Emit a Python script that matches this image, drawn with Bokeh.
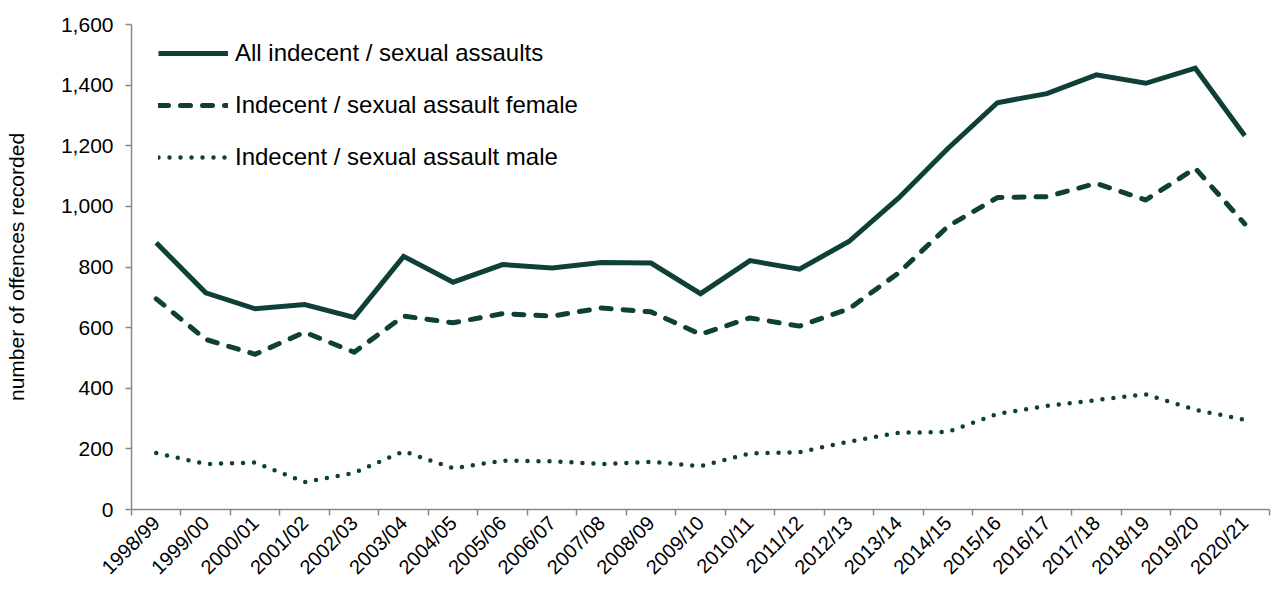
from bokeh.plotting import figure
from bokeh.models import FixedTicker, NumeralTickFormatter, Range1d, Legend, LegendItem
from bokeh.embed import file_html
from bokeh.resources import INLINE
import math

years = ["1998/99", "1999/00", "2000/01", "2001/02", "2002/03", "2003/04", "2004/05",
         "2005/06", "2006/07", "2007/08", "2008/09", "2009/10", "2010/11", "2011/12",
         "2012/13", "2013/14", "2014/15", "2015/16", "2016/17", "2017/18", "2018/19",
         "2019/20", "2020/21"]
all_assaults = [880, 715, 662, 676, 634, 835, 750, 808, 797, 815, 813, 712, 821, 793,
                884, 1027, 1191, 1342, 1372, 1434, 1406, 1456, 1233]
female = [695, 561, 512, 585, 519, 638, 616, 646, 638, 665, 652, 578, 632, 605,
          662, 780, 934, 1029, 1032, 1076, 1021, 1126, 942]
male = [186, 150, 155, 90, 121, 192, 136, 161, 159, 150, 157, 143, 185, 189,
        224, 253, 256, 315, 342, 361, 380, 329, 296]
y_ticks = [0, 200, 400, 600, 800, 1000, 1200, 1400, 1600]

xs = [i + 0.5 for i in range(len(years))]
color = "#0e4038"
font = "Liberation Sans"

p = figure(width=1271, height=589, output_backend="svg", toolbar_location=None,
           x_range=Range1d(0, len(years)), y_range=Range1d(0, 1600),
           min_border_left=131, min_border_right=2, min_border_top=24, min_border_bottom=78)
p.outline_line_color = None
p.grid.visible = False
p.background_fill_color = "white"

r1 = p.line(xs, all_assaults, line_color=color, line_width=5, line_join="miter")
r2 = p.line(xs, female, line_color=color, line_width=5, line_dash="10 12", line_cap="round", line_join="round")
r3 = p.line(xs, male, line_color=color, line_width=4.5, line_dash="0 11", line_cap="round", line_join="round")

# x axis: labels at category centres, ticks at boundaries
xa = p.xaxis[0]
xa.ticker = FixedTicker(ticks=xs, minor_ticks=list(range(len(years) + 1)))
xa.major_label_overrides = {x: y for x, y in zip(xs, years)}
xa.major_label_orientation = math.pi / 4
xa.major_tick_out = 0
xa.major_tick_in = 0
xa.minor_tick_out = 6
xa.minor_tick_in = 0
xa.minor_tick_line_color = "#888888"
xa.minor_tick_line_width = 1.5
xa.axis_line_color = "#888888"
xa.axis_line_width = 1.5
xa.major_label_text_font = font
xa.major_label_text_font_size = "20px"
xa.major_label_text_color = "#000000"
xa.major_label_standoff = 4

ya = p.yaxis[0]
ya.ticker = FixedTicker(ticks=y_ticks, minor_ticks=[])
ya.formatter = NumeralTickFormatter(format="0,0")
ya.major_tick_out = 6
ya.major_tick_in = 0
ya.major_tick_line_color = "#888888"
ya.major_tick_line_width = 1.5
ya.minor_tick_out = 0
ya.axis_line_color = "#888888"
ya.axis_line_width = 1.5
ya.major_label_text_font = font
ya.major_label_text_font_size = "21px"
ya.major_label_text_color = "#000000"
ya.major_label_standoff = 12
ya.axis_label = "number of offences recorded"
ya.axis_label_text_font = font
ya.axis_label_text_font_size = "21px"
ya.axis_label_text_font_style = "normal"
ya.axis_label_text_color = "#000000"
ya.axis_label_standoff = 30

legend = Legend(items=[
    LegendItem(label="All indecent / sexual assaults", renderers=[r1]),
    LegendItem(label="Indecent / sexual assault female", renderers=[r2]),
    LegendItem(label="Indecent / sexual assault male", renderers=[r3]),
], location=(27, 338))
legend.border_line_color = None
legend.background_fill_alpha = 0
legend.margin = 0
legend.padding = 0
legend.glyph_width = 70
legend.glyph_height = 28
legend.label_height = 28
legend.spacing = 24
legend.label_standoff = 7
legend.label_text_font = font
legend.label_text_font_size = "24px"
legend.label_text_color = "#000000"
p.add_layout(legend, "center")

open("out.html", "w").write(file_html(p, INLINE))
